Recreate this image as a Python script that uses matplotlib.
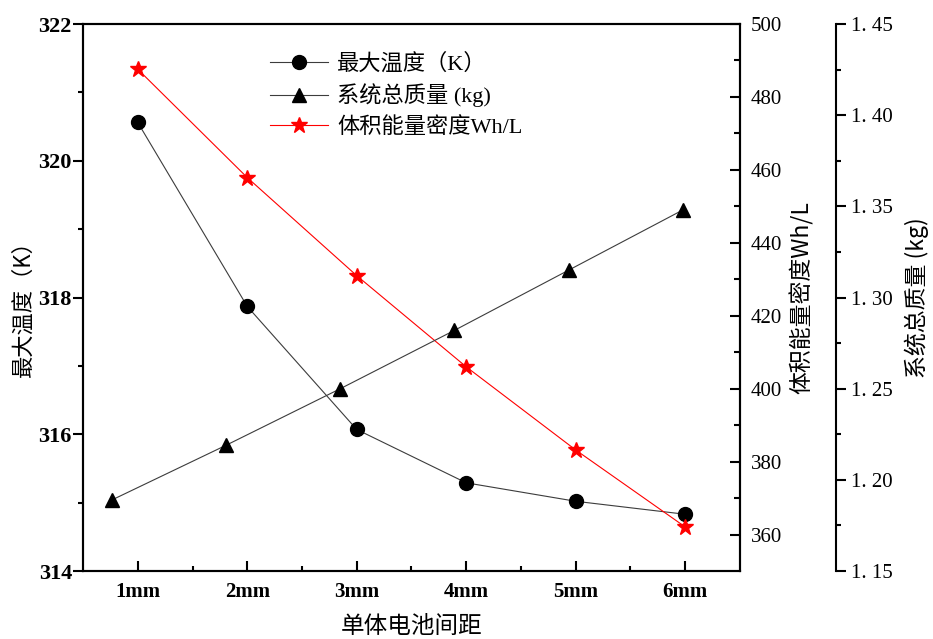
import matplotlib
matplotlib.use("Agg")
import matplotlib.pyplot as plt
from matplotlib.ticker import MultipleLocator, FixedLocator, FuncFormatter
from matplotlib.lines import Line2D

# data
spacing = ["1mm", "2mm", "3mm", "4mm", "5mm", "6mm"]
max_temp = [320.56, 317.87, 316.07, 315.29, 315.02, 314.83]          # K
energy_density = [487.6, 457.9, 431.0, 406.0, 383.2, 362.1]          # Wh/L
system_mass = [1.189, 1.219, 1.250, 1.282, 1.315, 1.348]             # kg

serif = ["Liberation Serif", "Noto Sans CJK SC"]
cjk = ["Noto Sans CJK SC", "Liberation Serif"]
plt.rcParams["font.family"] = serif
plt.rcParams["axes.linewidth"] = 1.5

fig = plt.figure(figsize=(9.33, 6.39), dpi=100)
rect = [0.089, 0.1064, 0.704, 0.856]
ax = fig.add_axes(rect)
ax2 = ax.twinx()
ax3 = fig.add_axes(rect, label="mass")

x = list(range(1, len(spacing) + 1))

# max temperature (left axis)
ax.plot(x, max_temp, color="#3c3c3c", lw=0.8, marker="o", ms=10,
        mfc="black", mec="black")
ax.set_xlim(0.5, 6.5)
ax.set_ylim(314, 322)
ax.set_xticks(x)
ax.set_xticklabels(spacing)
ax.xaxis.set_minor_locator(FixedLocator([1.5, 2.5, 3.5, 4.5, 5.5]))
ax.yaxis.set_major_locator(MultipleLocator(2))
ax.yaxis.set_minor_locator(MultipleLocator(1))
ax.tick_params(axis="x", which="major", direction="in", length=7, width=1.5, pad=8)
ax.tick_params(axis="x", which="minor", direction="in", length=3.5, width=1.5)
ax.tick_params(axis="y", which="major", direction="out", length=7, width=1.5, pad=1)
ax.tick_params(axis="y", which="minor", direction="out", length=3.5, width=1.5)
for lab in ax.get_xticklabels():
    lab.set_fontweight("bold")
    lab.set_fontsize(15)
for lab in ax.get_yticklabels():
    lab.set_fontweight("bold")
    lab.set_fontsize(16)
ax.set_ylabel("最大温度（K）", family=cjk, fontsize=16)
ax.yaxis.set_label_coords(-0.074, 0.49)
ax.set_xlabel("单体电池间距", family=cjk, fontsize=17)
ax.xaxis.set_label_coords(0.5, -0.081)

# volumetric energy density (first right axis)
ax2.plot(x, energy_density, color="red", lw=0.8, marker="*", ms=12,
         mfc="red", mec="red")
ax2.set_ylim(350, 500)
ax2.yaxis.set_major_locator(MultipleLocator(20))
ax2.yaxis.set_minor_locator(FixedLocator(list(range(370, 500, 20))))
ax2.tick_params(axis="y", which="major", direction="in", length=7, width=1.5,
                pad=8, labelsize=15)
ax2.tick_params(axis="y", which="minor", direction="in", length=4, width=1.5)
ax2.set_ylabel("体积能量密度Wh/L", family=cjk, fontsize=16.5)
ax2.yaxis.set_label_coords(1.076, 0.5)

# system mass (second right axis, own x scale)
ax3.plot(x, system_mass, color="#3c3c3c", lw=0.8, marker="^", ms=10,
         mfc="black", mec="black")
ax3.set_xlim(0.746, 6.5)
ax3.set_ylim(1.15, 1.45)
ax3.patch.set_visible(False)
ax3.xaxis.set_visible(False)
ax3.yaxis.tick_right()
ax3.yaxis.set_label_position("right")
for s in ["top", "bottom", "left"]:
    ax3.spines[s].set_visible(False)
ax3.spines["right"].set_position(("axes", 1.146))
ax3.yaxis.set_major_locator(MultipleLocator(0.05))
ax3.yaxis.set_minor_locator(MultipleLocator(0.025))
ax3.yaxis.set_major_formatter(FuncFormatter(lambda v, p: f"{v:.2f}".replace(".", ". ")))
ax3.tick_params(axis="y", which="major", direction="out", length=7, width=1.5,
                pad=4, labelsize=15)
ax3.tick_params(axis="y", which="minor", direction="out", length=3.5, width=1.5)
ax3.set_ylabel("系统总质量 (kg)", family=cjk, fontsize=16.5)
ax3.yaxis.set_label_coords(1.251, 0.5)

handles = [
    Line2D([], [], color="#3c3c3c", lw=0.8, marker="o", ms=10, mfc="black", mec="black"),
    Line2D([], [], color="#3c3c3c", lw=0.8, marker="^", ms=10, mfc="black", mec="black"),
    Line2D([], [], color="red", lw=0.8, marker="*", ms=12, mfc="red", mec="red"),
]
labels = ["最大温度（K）", "系统总质量 (kg)", "体积能量密度Wh/L"]
ax3.legend(handles, labels, loc="upper left", bbox_to_anchor=(0.285, 0.947),
           frameon=False, borderpad=0, borderaxespad=0, handlelength=2.6,
           handletextpad=0.4, labelspacing=0.42,
           prop={"family": serif, "size": 16})

fig.savefig("out.png", dpi=100)
